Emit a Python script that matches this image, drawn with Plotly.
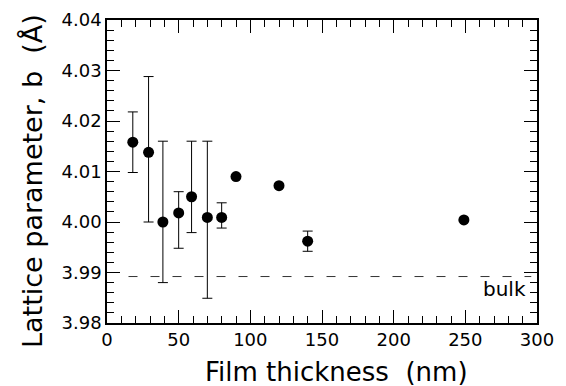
import plotly.graph_objects as go

thickness = [18, 29, 39, 50, 59, 70, 80, 90, 120, 140, 249]
lattice_b = [4.0158, 4.0138, 4.0000, 4.0018, 4.0050, 4.0009, 4.0009, 4.0090, 4.0072, 3.9962, 4.0004]
err_plus = [0.0060, 0.0150, 0.0160, 0.0042, 0.0110, 0.0151, 0.0029, 0, 0, 0.0020, 0]
err_minus = [0.0060, 0.0138, 0.0120, 0.0070, 0.0071, 0.0160, 0.0021, 0, 0, 0.0020, 0]
bulk_value = 3.9892
bulk_x = [15, 296]
bulk_label = "bulk"
x_title = "Film thickness\u00a0\u00a0(nm)"
y_title = "Lattice parameter, b\u00a0\u00a0(Å)"

FONT = "DejaVu Sans"

fig = go.Figure()
fig.add_trace(go.Scatter(
    x=bulk_x, y=[bulk_value, bulk_value], mode="lines",
    line=dict(color="#333", width=1, dash="9px,13px"), showlegend=False, hoverinfo="skip"))
fig.add_trace(go.Scatter(
    x=thickness, y=lattice_b, mode="markers",
    marker=dict(color="black", size=11),
    error_y=dict(type="data", symmetric=False, array=err_plus, arrayminus=err_minus,
                 color="black", thickness=1, width=5),
    showlegend=False))

fig.add_annotation(x=294, y=bulk_value, xref="x", yref="y", text=bulk_label,
                   showarrow=False, xanchor="right", yanchor="top", yshift=2,
                   font=dict(family=FONT, size=20, color="black"))

fig.add_annotation(x=-0.1744, y=0.4686, xref="paper", yref="paper", text=y_title,
                   showarrow=False, textangle=-90, xanchor="center", yanchor="middle",
                   font=dict(family=FONT, size=27, color="black"))
fig.add_annotation(x=0.5326, y=-0.1617, xref="paper", yref="paper", text=x_title,
                   showarrow=False, xanchor="center", yanchor="middle",
                   font=dict(family=FONT, size=26, color="black"))

axis_common = dict(
    showline=True, linecolor="black", linewidth=1.5, mirror="allticks",
    ticks="inside", ticklen=13, tickwidth=1.2, tickcolor="black",
    showgrid=False, zeroline=False,
    tickfont=dict(family=FONT, size=18, color="black"),
)

fig.update_xaxes(
    range=[0, 300], tick0=0, dtick=50,
    minor=dict(ticks="inside", ticklen=7, dtick=10, tickcolor="black", tickwidth=1),
    **axis_common)
fig.update_yaxes(
    range=[3.98, 4.04], tick0=3.98, dtick=0.01, tickformat=".2f",
    minor=dict(ticks="inside", ticklen=7, dtick=0.002, tickcolor="black", tickwidth=1),
    **axis_common)

fig.update_layout(
    width=566, height=386,
    margin=dict(l=107, r=29, t=20, b=63, autoexpand=False),
    plot_bgcolor="white", paper_bgcolor="white",
)

fig.write_html("out.html")
